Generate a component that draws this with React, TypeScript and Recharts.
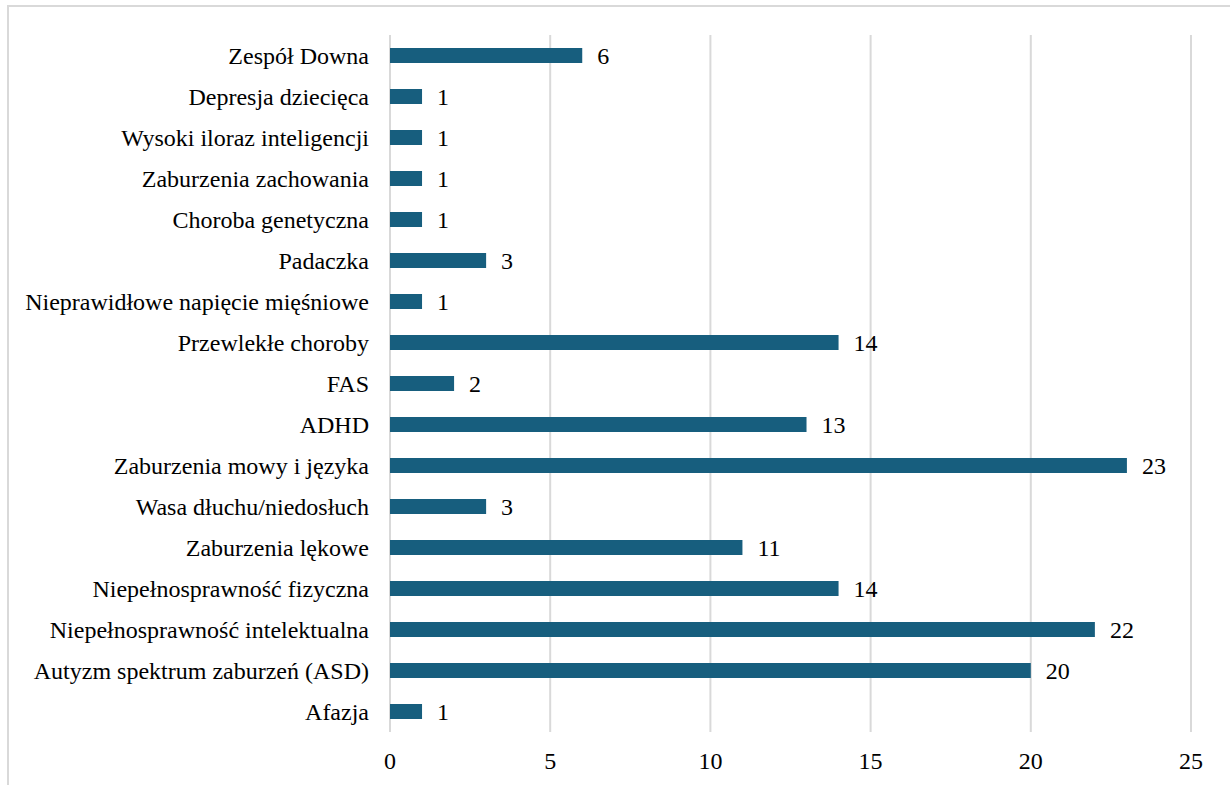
import { BarChart, Bar, XAxis, YAxis, CartesianGrid } from "recharts";

const categories = [
  "Zespół Downa",
  "Depresja dziecięca",
  "Wysoki iloraz inteligencji",
  "Zaburzenia zachowania",
  "Choroba genetyczna",
  "Padaczka",
  "Nieprawidłowe napięcie mięśniowe",
  "Przewlekłe choroby",
  "FAS",
  "ADHD",
  "Zaburzenia mowy i języka",
  "Wasa dłuchu/niedosłuch",
  "Zaburzenia lękowe",
  "Niepełnosprawność fizyczna",
  "Niepełnosprawność intelektualna",
  "Autyzm spektrum zaburzeń (ASD)",
  "Afazja",
];

const counts = [6, 1, 1, 1, 1, 3, 1, 14, 2, 13, 23, 3, 11, 14, 22, 20, 1];

const xTicks = [0, 5, 10, 15, 20, 25];

const FONT = '"Liberation Serif", "Times New Roman", serif';

// value labels drawn by hand so the serif font sticks
const renderValue = (props: any) => {
  const { x, y, width, height, value, index } = props;
  return (
    <text
      key={`v-${index}`}
      x={Number(x) + Number(width) + 15}
      y={Number(y) + Number(height) / 2 + 8}
      style={{ fontFamily: FONT, fontSize: 24, fill: "#000" }}
    >
      {value}
    </text>
  );
};

export default function App() {
  const data = categories.map((name, i) => ({ name, value: counts[i] }));

  return (
    <div style={{ position: "absolute", left: 0, top: 0, width: 1230, height: 785, overflow: "hidden", background: "#fff", fontFamily: FONT }}>
      <div
        style={{
          position: "absolute",
          left: 7,
          top: 5,
          width: 1240,
          height: 800,
          borderLeft: "2px solid #d9d9d9",
          borderTop: "2px solid #d9d9d9",
        }}
      />
      <div style={{ position: "absolute", left: 0, top: 0 }}>
        <BarChart
          width={1230}
          height={785}
          data={data}
          layout="vertical"
          margin={{ top: 35, right: 39, left: 0, bottom: 0 }}
        >
          <CartesianGrid horizontal={false} stroke="#d9d9d9" strokeWidth={2} />
          <XAxis
            type="number"
            domain={[0, 25]}
            ticks={xTicks}
            axisLine={false}
            tickLine={false}
            tickSize={0}
            tickMargin={20}
            height={53}
            tick={{ fontSize: 24, fill: "#000", fontFamily: FONT }}
          />
          <YAxis
            type="category"
            dataKey="name"
            width={390}
            axisLine={false}
            tickLine={false}
            tickSize={0}
            tickMargin={21}
            interval={0}
            tick={{ fontSize: 24, fill: "#000", fontFamily: FONT }}
          />
          <Bar
            dataKey="value"
            fill="#175e7e"
            barSize={15}
            isAnimationActive={false}
            label={renderValue}
          />
        </BarChart>
      </div>
    </div>
  );
}
